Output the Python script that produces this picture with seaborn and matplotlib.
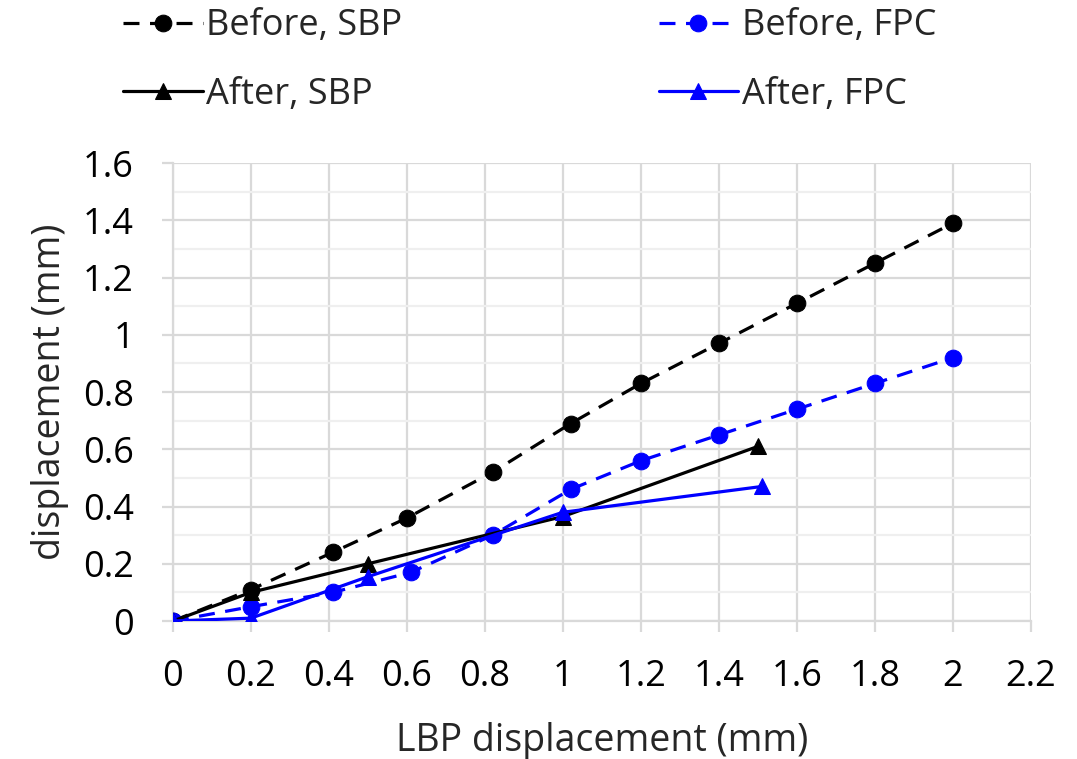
import matplotlib
matplotlib.use("Agg")
import matplotlib.pyplot as plt
import seaborn as sns
import pandas as pd
from matplotlib.ticker import MultipleLocator

# Data
before_sbp_x = [0, 0.2, 0.41, 0.6, 0.82, 1.02, 1.2, 1.4, 1.6, 1.8, 2.0]
before_sbp_y = [0, 0.11, 0.24, 0.36, 0.52, 0.69, 0.83, 0.97, 1.11, 1.25, 1.39]
before_fpc_x = [0, 0.2, 0.41, 0.61, 0.82, 1.02, 1.2, 1.4, 1.6, 1.8, 2.0]
before_fpc_y = [0, 0.05, 0.10, 0.17, 0.30, 0.46, 0.56, 0.65, 0.74, 0.83, 0.92]
after_sbp_x = [0, 0.2, 0.5, 1.0, 1.5]
after_sbp_y = [0, 0.10, 0.20, 0.365, 0.61]
after_fpc_x = [0, 0.2, 0.5, 1.0, 1.51]
after_fpc_y = [0, 0.01, 0.155, 0.38, 0.47]
x_ticks = [0, 0.2, 0.4, 0.6, 0.8, 1, 1.2, 1.4, 1.6, 1.8, 2, 2.2]
y_ticks = [0, 0.2, 0.4, 0.6, 0.8, 1, 1.2, 1.4, 1.6]
x_label = "LBP displacement (mm)"
y_label = "displacement (mm)"

sns.set_theme(style="white")
plt.rcParams['font.family'] = ['Open Sans', 'DejaVu Sans']

fig = plt.figure(figsize=(10.77, 7.59), dpi=100)
ax = fig.add_axes([0.1606, 0.1818, 0.7966, 0.6034])

dash = (0, (5, 3.3))
series = [
    ("Before, SBP", before_sbp_x, before_sbp_y, "black", "o", dash),
    ("Before, FPC", before_fpc_x, before_fpc_y, "#0000FF", "o", dash),
    ("After, SBP", after_sbp_x, after_sbp_y, "black", "^", "-"),
    ("After, FPC", after_fpc_x, after_fpc_y, "#0000FF", "^", "-"),
]
for name, xs, ys, col, mk, ls in series:
    df = pd.DataFrame({"x": xs, "y": ys})
    sns.lineplot(data=df, x="x", y="y", ax=ax, color=col, marker=mk,
                 markersize=12, markeredgecolor=col, linewidth=2.3,
                 linestyle=ls, label=name, sort=False, zorder=3)

ax.set_xlim(0, 2.2)
ax.set_ylim(0, 1.6)
ax.set_xticks(x_ticks)
ax.set_xticklabels([f"{t:g}" for t in x_ticks])
ax.set_yticks(y_ticks)
ax.set_yticklabels([f"{t:g}" for t in y_ticks])
ax.yaxis.set_minor_locator(MultipleLocator(0.1))
ax.grid(True, which="major", color="#D9D9D9", linewidth=1.6)
ax.grid(True, which="minor", axis="y", color="#EFEFEF", linewidth=1.6)
ax.set_axisbelow(True)
for s in ["top", "right"]:
    ax.spines[s].set_visible(False)
for s in ["left", "bottom"]:
    ax.spines[s].set_color("#D9D9D9")
    ax.spines[s].set_linewidth(1.6)
ax.tick_params(axis="both", which="major", length=8, width=1.6, color="#D9D9D9",
               labelsize=26, labelcolor="black", direction="out",
               left=True, bottom=True)
ax.tick_params(axis="y", which="major", pad=20)
ax.tick_params(axis="x", which="major", pad=19)
ax.tick_params(axis="y", which="minor", length=0)
ax.set_xlabel(x_label, fontsize=27, labelpad=20)
ax.set_ylabel(y_label, fontsize=27, labelpad=10)

h, l = ax.get_legend_handles_labels()
order = [0, 2, 1, 3]
ax.legend([h[i] for i in order], [l[i] for i in order],
          loc="upper left", bbox_to_anchor=(0.111, 0.994),
          bbox_transform=fig.transFigure, ncol=2, frameon=False,
          fontsize=26, handlelength=2.2, handletextpad=0.1,
          columnspacing=7.1, labelspacing=0.9, borderpad=0.1,
          borderaxespad=0)

fig.savefig("out.png", dpi=100, facecolor="white")
